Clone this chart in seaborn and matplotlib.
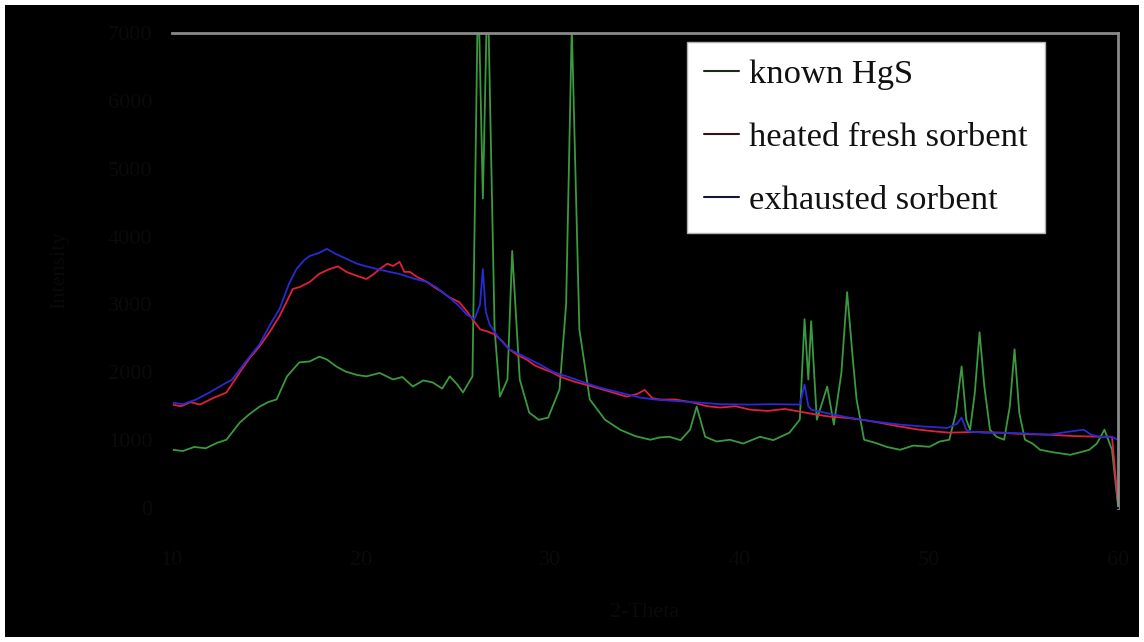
import numpy as np
import pandas as pd
import matplotlib
matplotlib.use("Agg")
import matplotlib.pyplot as plt
import seaborn as sns
from matplotlib.lines import Line2D

# ---- data ----
series_names = ["known HgS", "heated fresh sorbent", "exhausted sorbent"]

hgs_x = [10.0, 10.6, 11.2, 11.8, 12.4, 12.9, 13.6, 14.1, 14.65, 15.1, 15.55, 16.1, 16.75, 17.3, 17.8, 18.2, 18.7,
         19.2, 19.8, 20.3, 21.0, 21.7, 22.2, 22.75, 23.3, 23.8, 24.3, 24.7, 25.1, 25.4, 25.9, 26.2, 26.45, 26.7,
         27.07, 27.35, 27.75, 28.0, 28.4, 28.9, 29.4, 29.9, 30.5, 30.85, 31.15, 31.55, 32.1, 32.9, 33.7, 34.5,
         35.3, 35.8, 36.3, 36.9, 37.4, 37.75, 38.2, 38.8, 39.5, 40.2, 41.1, 41.8, 42.65, 43.2, 43.45, 43.65, 43.8,
         44.1, 44.65, 45.0, 45.4, 45.7, 46.0, 46.2, 46.6, 47.2, 47.8, 48.5, 49.2, 50.05, 50.6, 51.1, 51.45, 51.75,
         52.0, 52.2, 52.45, 52.7, 52.95, 53.25, 53.6, 54.0, 54.3, 54.55, 54.8, 55.1, 55.5, 55.9, 56.6, 57.5, 58.0,
         58.5, 58.9, 59.3, 59.7, 60.0]
hgs_y = [860, 840, 900, 880, 960, 1006, 1258, 1380, 1494, 1560, 1600, 1940, 2146, 2160, 2230, 2190, 2086,
         2010, 1960, 1940, 1990, 1894, 1930, 1790, 1880, 1850, 1760, 1940, 1820, 1702, 1940, 7800, 4560, 7800,
         2634, 1642, 1894, 3788, 1894, 1406, 1300, 1332, 1746, 3000, 7100, 2634, 1600, 1302, 1154, 1060,
         1006, 1040, 1050, 1000, 1154, 1494, 1050, 980, 1006, 950, 1050, 1000, 1110, 1302, 2782, 1894, 2752,
         1302, 1790, 1228, 2000, 3182, 2200, 1600, 1006, 960, 900, 858, 920, 902, 980, 1006, 1400, 2086,
         1300, 1154, 1700, 2590, 1800, 1154, 1050, 1006, 1500, 2338, 1400, 1006, 950, 858, 820, 784, 820,
         858, 950, 1154, 858, 74]

fresh_x = [10.0, 10.5, 11.0, 11.5, 12.2, 12.9, 13.6, 14.1, 14.65, 15.2, 15.7, 16.1, 16.4, 16.8, 17.3, 17.8, 18.35,
           18.8, 19.25, 19.8, 20.3, 20.7, 21.0, 21.4, 21.7, 22.05, 22.3, 22.6, 23.0, 23.5, 23.9, 24.3, 24.7, 25.2,
           25.6, 25.9, 26.3, 26.7, 27.07, 27.5, 27.85, 28.3, 28.75, 29.2, 29.7, 30.1, 30.5, 31.3, 32.25, 33.1,
           34.05, 34.6, 35.0, 35.4, 35.8, 36.6, 37.55, 38.3, 39.0, 39.8, 40.55, 41.5, 42.4, 43.2, 44.0, 44.8,
           45.6, 46.5, 47.4, 48.5, 49.5, 50.3, 51.1, 52.4, 53.75, 55.0, 56.4, 57.7, 59.05, 59.7, 60.0]
fresh_y = [1524, 1500, 1560, 1524, 1620, 1702, 1998, 2200, 2382, 2600, 2826, 3050, 3226, 3260, 3330, 3450, 3522,
           3560, 3478, 3420, 3374, 3450, 3522, 3600, 3566, 3626, 3480, 3478, 3400, 3330, 3250, 3182, 3100, 3034,
           2900, 2782, 2634, 2600, 2560, 2450, 2338, 2250, 2190, 2100, 2042, 2000, 1938, 1860, 1790, 1720,
           1642, 1680, 1740, 1620, 1598, 1600, 1554, 1500, 1480, 1500, 1450, 1430, 1460, 1420, 1380, 1346,
           1330, 1300, 1258, 1200, 1154, 1130, 1110, 1120, 1110, 1090, 1080, 1060, 1050, 1050, 118]

exh_x = [10.0, 10.6, 11.3, 12.0, 12.6, 13.2, 13.9, 14.65, 15.2, 15.7, 16.2, 16.6, 17.0, 17.3, 17.8, 18.2, 18.7,
         19.25, 19.8, 20.3, 20.85, 21.5, 22.05, 22.8, 23.5, 24.0, 24.6, 25.2, 25.6, 26.0, 26.3, 26.45, 26.6,
         26.8, 27.3, 27.85, 28.5, 29.0, 29.45, 30.2, 31.05, 31.8, 32.6, 33.7, 34.75, 35.5, 36.5, 37.9, 39.0,
         40.55, 41.8, 43.2, 43.45, 43.65, 43.8, 44.6, 45.8, 47.0, 48.5, 49.8, 51.0, 51.5, 51.75, 52.0, 52.2,
         53.0, 53.75, 55.0, 56.4, 57.3, 58.2, 58.6, 59.05, 59.7, 60.0]
exh_y = [1554, 1530, 1600, 1702, 1800, 1894, 2150, 2412, 2700, 2930, 3300, 3522, 3650, 3714, 3760, 3818, 3740,
         3670, 3600, 3560, 3522, 3480, 3448, 3380, 3330, 3250, 3120, 2974, 2850, 2782, 3000, 3522, 2900,
         2708, 2500, 2338, 2250, 2180, 2116, 2000, 1924, 1850, 1776, 1700, 1628, 1600, 1580, 1554, 1530,
         1524, 1530, 1524, 1820, 1500, 1450, 1400, 1332, 1280, 1228, 1200, 1180, 1240, 1332, 1150, 1124,
         1110, 1110, 1100, 1080, 1120, 1154, 1080, 1050, 1050, 1006]

x_ticks = [10, 20, 30, 40, 50, 60]
y_ticks = [0, 1000, 2000, 3000, 4000, 5000, 6000, 7000]
x_label = "2-Theta"
y_label = "Intensity"

# ---- build table ----
df = pd.concat([
    pd.DataFrame({"x": hgs_x, "y": hgs_y, "sample": series_names[0]}),
    pd.DataFrame({"x": fresh_x, "y": fresh_y, "sample": series_names[1]}),
    pd.DataFrame({"x": exh_x, "y": exh_y, "sample": series_names[2]}),
], ignore_index=True)

colors = ["#3a9a3e", "#e0203c", "#2a2ad4"]
palette = dict(zip(series_names, colors))

sns.set_theme(style="white")
plt.rcParams["font.family"] = ["Liberation Serif", "DejaVu Serif"]

fig = plt.figure(figsize=(11.44, 6.42), dpi=100)
fig.patch.set_facecolor("black")
fig.patch.set_edgecolor("white")
fig.patch.set_linewidth(6)

ax = fig.add_axes([0.150, 0.2087, 0.827, 0.740])
ax.set_facecolor("black")

sns.lineplot(data=df, x="x", y="y", hue="sample", palette=palette, hue_order=series_names,
             estimator=None, sort=True, linewidth=1.3, ax=ax, legend=False)

ax.set_xlim(10, 60)
ax.set_ylim(0, 7000)
ax.set_xticks(x_ticks)
ax.set_yticks(y_ticks)
txt_col = "#0a0a0a"
ax.tick_params(axis="both", colors=txt_col, labelsize=16, length=0)
ax.tick_params(axis="x", pad=31)
ax.tick_params(axis="y", pad=14)
ax.set_xlabel(x_label, color=txt_col, fontsize=16, labelpad=24)
ax.set_ylabel(y_label, color=txt_col, fontsize=16, labelpad=28)

for side in ["left", "bottom"]:
    ax.spines[side].set_color("black")
for side in ["top", "right"]:
    ax.spines[side].set_color("#8a8a8a")
    ax.spines[side].set_linewidth(2)

handle_cols = ["#1c2a1c", "#2e1618", "#16163a"]
handles = [Line2D([0], [0], color=c, lw=1.5) for c in handle_cols]
leg = ax.legend(handles, series_names, loc="upper left", bbox_to_anchor=(0.545, 0.981),
                fontsize=24.8, frameon=True, fancybox=False, handlelength=1.0, handletextpad=0.3,
                labelspacing=0.92, borderpad=0.5, borderaxespad=0)
leg.get_frame().set_facecolor("white")
leg.get_frame().set_edgecolor("#b0b0b0")
leg.get_frame().set_alpha(1)
for t in leg.get_texts():
    t.set_color("#111111")

fig.savefig("out.png", dpi=100, facecolor=fig.get_facecolor(), edgecolor=fig.get_edgecolor())
